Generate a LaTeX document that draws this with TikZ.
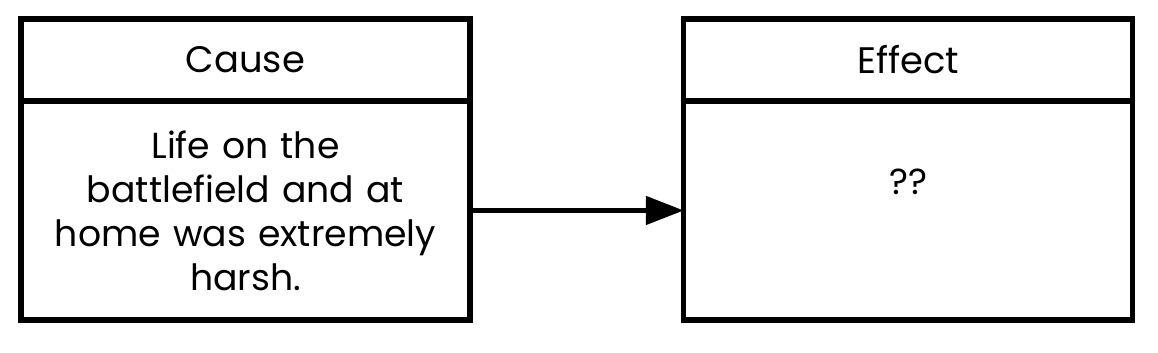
\documentclass[tikz,border=0pt]{standalone}
\usepackage{fontspec}
\setmainfont{Poppins}
\usetikzlibrary{arrows.meta,positioning}
\definecolor{LineClr}{rgb}{0,0,0}

\begin{document}
\begin{tikzpicture}[x=0.02cm,y=-0.02cm,
  headbox/.style={draw=LineClr,line width=2.9pt,rectangle,inner sep=0pt,outer sep=0pt,
    minimum width=8.98cm,minimum height=1.64cm,font=\fontsize{21}{26}\selectfont},
  bodybox/.style={draw=LineClr,line width=2.9pt,rectangle,inner sep=0pt,outer sep=0pt,
    minimum width=8.98cm,minimum height=4.38cm,align=center,text width=8.6cm,
    font=\fontsize{20.6}{25}\selectfont},
  link/.style={line width=2.9pt,-{Triangle[length=0.76cm,width=0.56cm]}}]
\useasboundingbox (0,0) rectangle (1158,352);

\node[headbox] (causehead) at (245.5,60) {Cause};
\node[bodybox,below=0pt of causehead] (causebody) {Life on the\\ battlefield and at\\ home was extremely\\ harsh.};

\node[headbox] (effecthead) at (908.2,60) {Effect};
\node[bodybox,below=0pt of effecthead] (effectbody) {??\\ \strut};

\draw[link] (causebody) -- (effectbody);

\end{tikzpicture}
\end{document}
